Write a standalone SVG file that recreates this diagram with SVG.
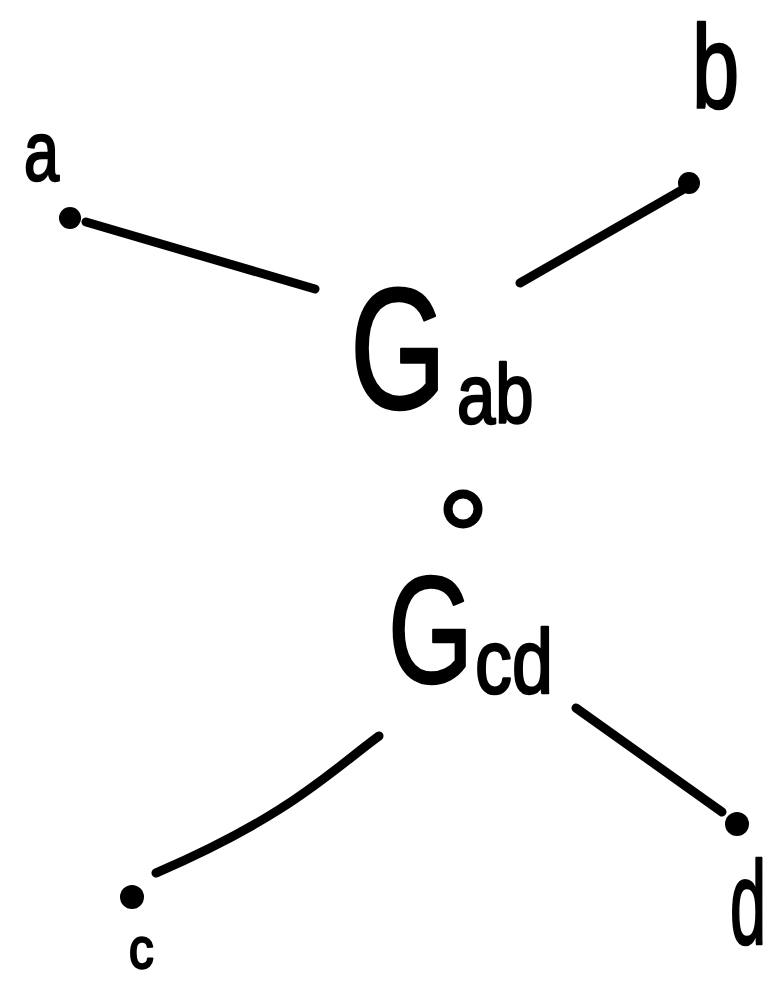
<svg xmlns="http://www.w3.org/2000/svg" width="768" height="981" viewBox="0 0 768 981">
<style>
.lbl{font-family:"Liberation Sans","DejaVu Sans",sans-serif;fill:#000;stroke:#000;stroke-width:2.5;stroke-linejoin:round}
.edge{fill:none;stroke:#000;stroke-width:9;stroke-linecap:round;stroke-linejoin:round}
.dot{fill:#000}
</style>
<rect width="768" height="981" fill="#fff"/>
<g id="connectors">
<path class="edge" d="M86,222 L315,289"/>
<path class="edge" d="M682,190 L520,283"/>
<path class="edge" d="M379,736 C330,772 290,815 156,873"/>
<path class="edge" d="M576,708 L722,812"/>
</g>
<g id="node-a">
<circle class="dot" cx="70" cy="218" r="11"/>
<text class="lbl" transform="translate(24,180) scale(0.75,1)" font-size="84">a</text>
</g>
<g id="node-b">
<circle class="dot" cx="689" cy="183" r="11"/>
<text class="lbl" transform="translate(692,108) scale(0.72,1)" font-size="118">b</text>
</g>
<g id="node-Gab">
<text class="lbl" transform="translate(350,408) scale(0.72,1)" font-size="172">G</text>
<text class="lbl" transform="translate(457,423) scale(0.82,1)" font-size="84">ab</text>
</g>
<g id="compose">
<circle cx="463" cy="509" r="15" fill="none" stroke="#000" stroke-width="9"/>
</g>
<g id="node-Gcd">
<text class="lbl" transform="translate(388,683) scale(0.72,1)" font-size="152">G</text>
<text class="lbl" transform="translate(475,693) scale(0.82,1)" font-size="90">cd</text>
</g>
<g id="node-c">
<circle class="dot" cx="132" cy="897" r="12"/>
<text class="lbl" transform="translate(129,968) scale(0.85,1)" font-size="58">c</text>
</g>
<g id="node-d">
<circle class="dot" cx="737" cy="824" r="12"/>
<text class="lbl" transform="translate(730,944) scale(0.55,1)" font-size="118">d</text>
</g>
</svg>
